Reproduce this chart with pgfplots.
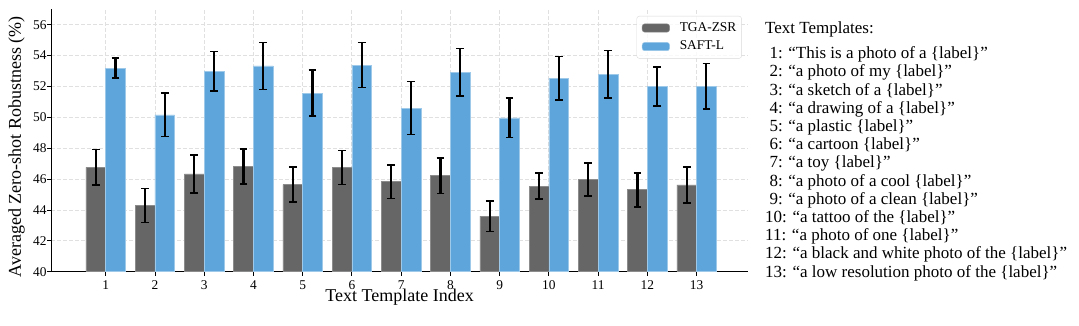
\documentclass[border=0pt]{standalone}
\usepackage{fontspec}
\setmainfont{Liberation Serif}
\usepackage{pgfplots}
\usepackage{pgfplotstable}
\pgfplotsset{compat=1.18}
\definecolor{tgagray}{HTML}{666666}
\definecolor{saftblue}{HTML}{5DA5DA}
\definecolor{gridgray}{HTML}{E0E0E0}
\newcommand{\legfont}{\fontsize{13.4}{15}\selectfont}
\pgfplotsset{
    flatlegend/.style={legend image code/.code={\fill[##1, fill opacity=1] (0pt,-4.15pt) rectangle (27.3pt,4.15pt);}},
    errstyle/.style={error bars/.cd, y dir=both, y explicit, error mark=-,
        error bar style={black, line width=2.1pt},
        error mark options={black, line width=1.6pt, mark size=3.9pt, rotate=90}},
}

% template index, TGA-ZSR mean/err, SAFT-L mean/err
\pgfplotstableread{
idx tga   tgaerr saft  safterr
1   46.76 1.15   53.18 0.65
2   44.29 1.10   50.16 1.40
3   46.33 1.24   52.98 1.28
4   46.81 1.13   53.33 1.52
5   45.64 1.14   51.57 1.50
6   46.74 1.10   53.39 1.46
7   45.83 1.10   50.60 1.72
8   46.22 1.16   52.92 1.54
9   43.60 1.00   49.97 1.28
10  45.55 0.85   52.53 1.42
11  45.98 1.06   52.79 1.55
12  45.31 1.10   52.01 1.26
13  45.62 1.15   52.01 1.47
}\robust

\begin{document}
\begin{tikzpicture}
\path[use as bounding box] (0pt,0pt) rectangle (1079pt,325pt);
\begin{axis}[
    at={(51pt,53.3pt)}, anchor=south west,
    scale only axis, width=697.3pt, height=262.4pt,
    xmin=-0.11, xmax=14.05, ymin=40, ymax=57,
    xtick={1,...,13}, ytick={40,42,...,56},
    axis x line*=bottom, axis y line*=left,
    axis line style={-, line width=0.8pt},
    tick align=outside, major tick length=4pt,
    tick style={black, line width=0.8pt},
    grid=major,
    major grid style={gridgray, line width=0.8pt, dash pattern=on 4pt off 2pt},
    ticklabel style={font=\fontsize{13.4}{15}\selectfont},
    xticklabel style={yshift=-1.5pt},
    yticklabel style={xshift=3pt},
    /pgf/number format/assume math mode=true,
    xlabel={Text Template Index},
    ylabel={Averaged Zero-shot Robustness (\%)},
    every axis x label/.style={at={(axis description cs:0.5,-0.1143)}, anchor=base, font=\fontsize{18}{21}\selectfont},
    every axis y label/.style={at={(axis description cs:-0.0492,0.476)}, anchor=center, rotate=90, font=\fontsize{18}{21}\selectfont},
    ybar, bar width=0.4,
    legend cell align=left,
    legend style={at={(0.9906,0.9745)}, anchor=north east, draw=black!15, rounded corners=2.5pt,
        fill=white, fill opacity=0.8, text opacity=1,
        inner xsep=5.2pt, inner ysep=2.5pt, row sep=0pt, column sep=10pt,
        nodes={inner xsep=0pt, inner ysep=3.2pt, text height=9.5pt, text depth=2.7pt}},
]
\addplot[ybar, bar shift=-0.2, fill=tgagray, draw=tgagray!75!white, line width=0.5pt,
    flatlegend, errstyle]
    table[x=idx, y=tga, y error=tgaerr] {\robust};
\addlegendentry{\legfont TGA-ZSR}
\addplot[ybar, bar shift=0.2, fill=saftblue, draw=saftblue!60!white, line width=0.5pt,
    flatlegend, errstyle]
    table[x=idx, y=saft, y error=safterr] {\robust};
\addlegendentry{\legfont SAFT-L}
\end{axis}
\begin{scope}[every node/.style={anchor=base west, inner sep=0pt, font=\fontsize{17}{18.2}\selectfont}]
\node at (765pt,291.4pt) {Text Templates:};
\node at (765pt,266.4pt) {\hspace{4.3pt}1: “This is a photo of a \{label\}”};
\node at (765pt,248.2pt) {\hspace{4.3pt}2: “a photo of my \{label\}”};
\node at (765pt,230.0pt) {\hspace{4.3pt}3: “a sketch of a \{label\}”};
\node at (765pt,211.8pt) {\hspace{4.3pt}4: “a drawing of a \{label\}”};
\node at (765pt,193.6pt) {\hspace{4.3pt}5: “a plastic \{label\}”};
\node at (765pt,175.4pt) {\hspace{4.3pt}6: “a cartoon \{label\}”};
\node at (765pt,157.2pt) {\hspace{4.3pt}7: “a toy \{label\}”};
\node at (765pt,139.0pt) {\hspace{4.3pt}8: “a photo of a cool \{label\}”};
\node at (765pt,120.8pt) {\hspace{4.3pt}9: “a photo of a clean \{label\}”};
\node at (765pt,102.6pt) {10: “a tattoo of the \{label\}”};
\node at (765pt,84.4pt) {11: “a photo of one \{label\}”};
\node at (765pt,66.2pt) {12: “a black and white photo of the \{label\}”};
\node at (765pt,48.0pt) {13: “a low resolution photo of the \{label\}”};
\end{scope}
\end{tikzpicture}
\end{document}
